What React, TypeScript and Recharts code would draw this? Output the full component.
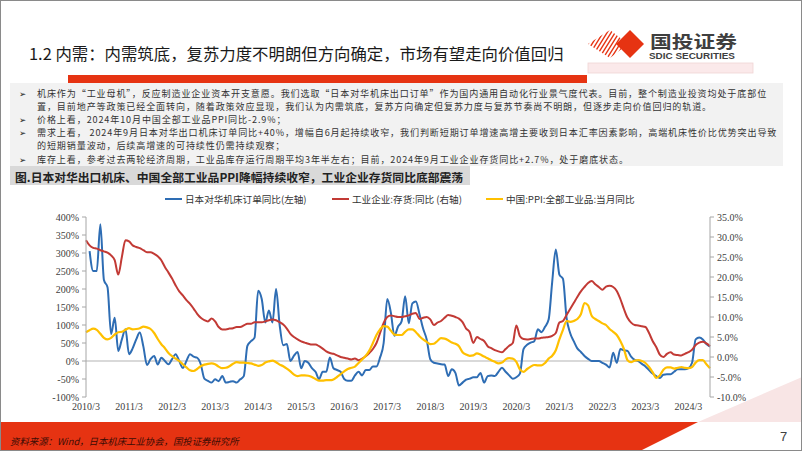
import React from "react";
import { LineChart, Line, XAxis, YAxis, ReferenceLine } from "recharts";

// monthly categories, 2010/3 .. 2024/9
const START_YEAR = 2010;
const START_MONTH = 3;
const MONTH_COUNT = 175;
const months: string[] = [];
for (let i = 0; i < MONTH_COUNT; i++) {
  const t = START_MONTH - 1 + i;
  months.push(`${START_YEAR + Math.floor(t / 12)}/${(t % 12) + 1}`);
}

// 日本对华机床订单同比 (%, left axis)
const machineOrders: (number | null)[] = [
  null, 305, 250, 250, 380, 225, 205, 75, 120, 28,
  60, 88, 19, 35, 60, 79, 40, -11, 5, 14, -10, 9,
  0, -9, 5, 19, 0, -19, 0, 19, 12, 9, -9, -49,
  -55, -60, -51, -56, -42, -60, -58, -56, -60, -51, -42, 42,
  55, 65, 195, 172, 107, 140, 107, 200, 100, 44, 47, 0,
  15, 25, -20, 0, -5, -20, -30, -50, -30, -30, 10, -20,
  -25, -30, -50, -55, -55, -40, -30, -40, -25, -25, -15, -15,
  10, 50, 172, 135, 70, 95, 110, 180, 105, 160, 165, 130,
  90, 60, 5, -5, -7, -9, -10, -42, -23, -33, -68, -60,
  -52, -49, -45, -45, -33, -60, -42, -40, -42, -30, -19, -30,
  -40, -49, -45, -35, 33, 45, 51, 55, 88, 80, 95, 115,
  220, 310, 240, 228, 120, 78, 55, 35, 25, 14, 6, 0,
  0, 0, -5, -10, -18, 23, -5, 33, 30, 28, 12, 3,
  0, -8, -15, -25, -35, -42, -47, -38, -37, -37, -30, -23,
  -23, -23, -20, -5, 60, 65, 60, 47, 40,
];

// 工业企业:存货:同比 (%, right axis)
const inventoryYoy: number[] = [
  29.2, 27.9, 27.3, 27.1, 26.7, 26.4, 26.1, 25.4, 24.2, 20.6,
  25.0, 29.2, 28.9, 27.9, 27.5, 27.2, 26.7, 26.2, 26.2, 25.8, 25.2, 24.2,
  22.5, 21.1, 19.6, 17.9, 16.4, 15.4, 14.2, 13.3, 12.1, 10.8, 9.8, 9.2,
  8.9, 9.6, 8.9, 7.5, 6.9, 6.9, 7.1, 7.2, 7.5, 7.5, 7.9, 8.3,
  8.3, 8.7, 8.7, 8.7, 8.9, 9.2, 9.4, 9.2, 8.7, 8.1, 7.1, 5.8,
  5.0, 4.4, 3.9, 3.6, 3.3, 3.1, 3.1, 2.7, 2.1, 1.4, 1.0, 0.8,
  0.4, 0.0, -0.2, -0.4, -0.6, -0.4, -0.8, -0.4, 0.2, 1.0, 2.0, 3.5,
  6.0, 8.5, 10.0, 10.4, 10.2, 10.0, 10.0, 10.2, 10.4, 10.8, 11.0, 9.5,
  9.8, 10.0, 9.4, 8.0, 8.6, 9.0, 9.8, 10.5, 10.3, 10.0, 9.6, 8.7,
  7.1, 6.2, 3.5, 5.0, 4.5, 4.0, 2.7, 2.2, 1.7, 1.4, 1.2, 2.0,
  2.8, 3.5, 7.9, 5.2, 4.5, 4.4, 4.5, 4.6, 4.6, 4.8, 4.9, 5.0,
  5.3, 6.0, 8.6, 9.0, 10.5, 12.0, 13.5, 15.0, 16.4, 17.5, 18.5, 19.0,
  18.2, 17.5, 16.8, 17.6, 17.8, 17.5, 16.5, 14.5, 12.0, 9.8, 8.6, 8.0,
  7.9, 7.7, 7.5, 6.0, 4.0, 2.5, 0.6, 0.0, 0.8, 1.2, 0.6, 0.5,
  0.4, 0.8, 1.2, 1.8, 3.0, 3.6, 3.8, 3.4, 2.7,
];

// 中国:PPI:全部工业品:当月同比 (%, right axis)
const ppiYoy: number[] = [
  6.2, 6.7, 7.1, 6.8, 5.8, 4.8, 4.4, 4.8, 5.6, 6.2,
  6.3, 6.8, 7.2, 6.9, 7.0, 7.2, 7.6, 7.4, 7.0, 6.0, 4.5, 3.2,
  2.2, 1.0, 0.2, -0.4, -1.0, -1.8, -2.6, -3.3, -3.5, -3.0, -2.3, -1.9,
  -1.7, -1.6, -1.8, -2.4, -2.8, -2.7, -2.3, -1.7, -1.3, -1.4, -1.4, -1.5,
  -1.6, -1.9, -2.2, -2.0, -1.4, -1.1, -0.9, -1.3, -1.9, -2.3, -2.9, -3.6,
  -4.4, -4.8, -4.6, -4.6, -4.7, -5.0, -5.5, -5.9, -5.9, -5.8, -5.8, -5.6,
  -5.0, -4.3, -3.6, -3.0, -2.7, -2.4, -1.5, -0.6, 0.3, 1.6, 3.5, 5.5,
  6.9, 7.7, 7.6, 6.6, 5.6, 5.5, 5.5, 6.3, 6.9, 6.9, 6.2, 5.2,
  4.4, 3.8, 3.2, 3.3, 4.0, 4.7, 4.6, 4.2, 3.6, 3.3, 2.7, 1.2,
  0.6, 0.3, 0.4, 0.9, 0.6, 0.1, -0.3, -0.8, -1.2, -1.6, -1.4, -0.6,
  -0.3, -0.4, -1.2, -3.1, -3.7, -3.0, -2.4, -2.0, -2.1, -2.1, -1.5, -0.4,
  0.3, 1.7, 4.4, 6.8, 9.0, 8.8, 9.0, 9.5, 10.7, 13.5, 12.9, 10.3,
  9.5, 9.0, 8.4, 8.0, 7.0, 6.3, 5.5, 4.0, 2.0, -0.8, -1.3, -0.9,
  -0.8, -1.0, -1.5, -2.5, -3.8, -5.2, -4.6, -3.2, -2.6, -2.6, -2.9, -2.7,
  -2.5, -2.7, -2.8, -2.5, -1.4, -0.8, -0.8, -1.8, -2.8,
];

const leftTicks = [-100, -50, 0, 50, 100, 150, 200, 250, 300, 350, 400];
const rightTicks = [-10, -5, 0, 5, 10, 15, 20, 25, 30, 35];

const series = [
  { key: "orders", name: "日本对华机床订单同比(左轴)", color: "#2e6db4", axis: "left", width: 2, legendX: 165 },
  { key: "inventory", name: "工业企业:存货:同比 (右轴)", color: "#c23a35", axis: "right", width: 2, legendX: 332 },
  { key: "ppi", name: "中国:PPI:全部工业品:当月同比", color: "#ffc000", axis: "right", width: 2.2, legendX: 486 },
];

const chartData = months.map((m, i) => ({
  month: m,
  orders: machineOrders[i],
  inventory: inventoryYoy[i],
  ppi: ppiYoy[i],
}));

const bullets = [
  { arrow: true, text: "机床作为“工业母机”，反应制造业企业资本开支意愿。我们选取“日本对华机床出口订单”作为国内通用自动化行业景气度代表。目前，整个制造业投资均处于底部位" },
  { arrow: false, text: "置，目前地产等政策已经全面转向，随着政策效应显现，我们认为内需筑底，复苏方向确定但复苏力度与复苏节奏尚不明朗，但逐步走向价值回归的轨道。" },
  { arrow: true, text: "价格上看，2024年10月中国全部工业品PPI同比-2.9%；" },
  { arrow: true, text: "需求上看， 2024年9月日本对华出口机床订单同比+40%，增幅自6月起持续收窄，我们判断短期订单增速高增主要收到日本汇率因素影响，高端机床性价比优势突出导致" },
  { arrow: false, text: "的短期销量波动，后续高增速的可持续性仍需持续观察；" },
  { arrow: true, text: "库存上看，参考过去两轮经济周期，工业品库存运行周期平均3年半左右；目前，2024年9月工业企业存货同比+2.7%，处于磨底状态。" },
];

const cjk = '"Noto Sans CJK SC", "Noto Sans", sans-serif';
const serif = '"Liberation Serif", "DejaVu Serif", serif';
const tickStyle = { fontSize: 10, fontFamily: serif, fill: "#404040" };

const App: React.FC = () => {
  return (
    <div
      style={{
        position: "absolute",
        left: 0,
        top: 0,
        width: 802,
        height: 451,
        background: "#fff",
        overflow: "hidden",
        boxSizing: "border-box",
        border: "1px solid #8a8a8a",
        fontFamily: cjk,
      }}
    >
      {/* decorations */}
      <svg width={802} height={451} style={{ position: "absolute", left: -1, top: -1 }}>
        <defs>
          <clipPath id="stripeClip">
            <polygon points="588,44 610,30 628,44 610,58" />
          </clipPath>
        </defs>
        <g clipPath="url(#stripeClip)">
          {Array.from({ length: 12 }).map((_, i) => (
            <line key={i} x1={578 + i * 4} y1={60} x2={598 + i * 4} y2={28} stroke="#e63312" strokeWidth={1.4} />
          ))}
        </g>
        <polygon points="630,30 644,44 630,58 616,44" fill="#e63312" />
        <text x={650} y={47.5} fontSize={17.5} fontWeight={700} fill="#3f3f3f" textLength={87} lengthAdjust="spacingAndGlyphs" fontFamily={cjk}>
          国投证券
        </text>
        <text x={649} y={59} fontSize={8.5} fontWeight={700} fill="#3f3f3f" textLength={86} lengthAdjust="spacingAndGlyphs" fontFamily='"Liberation Sans Narrow", "Liberation Sans", sans-serif'>
          SDIC SECURITIES
        </text>
        <rect x={588} y={63} width={165} height={10} fill="#fbe9ea" stroke="#efd4d4" strokeWidth={0.8} />
        <rect x={68} y={75} width={519} height={8} fill="#e63312" />
        <rect x={10} y={83} width={773} height={83} fill="#f2f2f2" />
        <rect x={10} y={166} width={460} height={19} fill="#d9d9d9" />
        <polygon points="698,422 802,377 802,422" fill="#f8e5e5" />
        <polygon points="0,422 698,422 640,451 0,451" fill="#e63312" />
      </svg>

      <div
        style={{
          position: "absolute",
          left: 28,
          top: 41,
          fontSize: 16.4,
          color: "#1a1a1a",
          whiteSpace: "nowrap",
          lineHeight: "22px",
        }}
      >
        1.2 内需：内需筑底，复苏力度不明朗但方向确定，市场有望走向价值回归
      </div>

      {bullets.map((b, i) => (
        <div
          key={i}
          style={{
            position: "absolute",
            left: 18,
            top: 86.5 + i * 13.2,
            height: 12,
            lineHeight: "12px",
            fontSize: 9.05,
            letterSpacing: 0.88,
            color: "#333",
            whiteSpace: "nowrap",
          }}
        >
          <span style={{ display: "inline-block", width: 18, fontFamily: '"DejaVu Sans", sans-serif', fontSize: 8.5, color: "#222", letterSpacing: 0 }}>
            {b.arrow ? "➢" : ""}
          </span>
          {b.text}
        </div>
      ))}

      <div
        style={{
          position: "absolute",
          left: 14,
          top: 167,
          lineHeight: "17px",
          fontSize: 11.8,
          fontWeight: 700,
          color: "#222",
          whiteSpace: "nowrap",
        }}
      >
        图.日本对华出口机床、中国全部工业品PPI降幅持续收窄，工业企业存货同比底部震荡
      </div>

      {/* legend */}
      {series.map((s) => (
        <div
          key={s.key}
          style={{
            position: "absolute",
            left: s.legendX - 1,
            top: 191,
            height: 14,
            display: "flex",
            alignItems: "center",
            whiteSpace: "nowrap",
            fontSize: 9.6,
            color: "#333",
          }}
        >
          <span style={{ display: "inline-block", width: 17, height: 2.2, background: s.color, marginRight: 3 }} />
          {s.name}
        </div>
      ))}

      <div style={{ position: "absolute", left: -1, top: 184 }}>
        <LineChart width={802} height={240} data={chartData} margin={{ top: 32, right: 42, bottom: 8, left: 26 }}>
          <XAxis
            dataKey="month"
            interval={11}
            axisLine={false}
            tickLine={false}
            tickSize={4}
            tickMargin={2}
            height={20}
            tick={tickStyle}
          />
          <YAxis
            yAxisId="left"
            domain={[-100, 400]}
            ticks={leftTicks}
            width={60}
            tickSize={4}
            tickMargin={3}
            axisLine={{ stroke: "#a6a6a6" }}
            tickLine={{ stroke: "#a6a6a6" }}
            tick={tickStyle}
            tickFormatter={(v) => `${v}%`}
          />
          <YAxis
            yAxisId="right"
            orientation="right"
            domain={[-10, 35]}
            ticks={rightTicks}
            width={50}
            tickSize={4}
            tickMargin={3}
            axisLine={{ stroke: "#a6a6a6" }}
            tickLine={{ stroke: "#a6a6a6" }}
            tick={tickStyle}
            tickFormatter={(v) => `${Number(v).toFixed(1)}%`}
          />
          <ReferenceLine yAxisId="left" y={0} stroke="#b3b3b3" strokeWidth={1} />
          {series.map((s) => (
            <Line
              key={s.key}
              yAxisId={s.axis}
              dataKey={s.key}
              name={s.name}
              type="monotone"
              stroke={s.color}
              strokeWidth={s.width}
              dot={false}
              isAnimationActive={false}
            />
          ))}
        </LineChart>
      </div>

      <div
        style={{
          position: "absolute",
          left: 9,
          top: 433,
          fontSize: 9.4,
          fontStyle: "italic",
          color: "#3a0c05",
          whiteSpace: "nowrap",
          lineHeight: "14px",
        }}
      >
        资料来源：Wind，日本机床工业协会，国投证券研究所
      </div>
      <div
        style={{
          position: "absolute",
          left: 779,
          top: 428,
          fontSize: 13,
          color: "#404040",
          fontFamily: '"Liberation Sans", sans-serif',
        }}
      >
        7
      </div>
    </div>
  );
};

export default App;
